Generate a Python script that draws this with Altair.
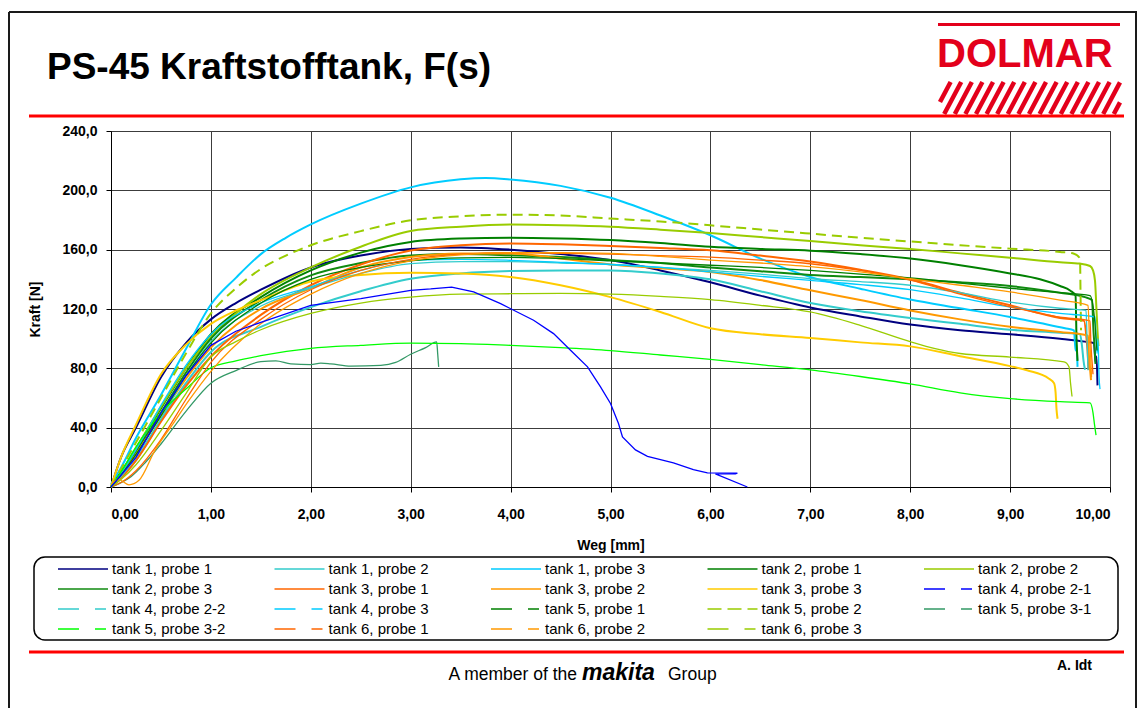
import altair as alt
import pandas as pd

# ---------------- series definitions ----------------
names = [
    "tank 1, probe 1", "tank 1, probe 2", "tank 1, probe 3", "tank 2, probe 1", "tank 2, probe 2",
    "tank 2, probe 3", "tank 3, probe 1", "tank 3, probe 2", "tank 3, probe 3", "tank 4, probe 2-1",
    "tank 4, probe 2-2", "tank 4, probe 3", "tank 5, probe 1", "tank 5, probe 2", "tank 5, probe 3-1",
    "tank 5, probe 3-2", "tank 6, probe 1", "tank 6, probe 2", "tank 6, probe 3",
]
colors = [
    "#000080", "#33CCCC", "#00CCFF", "#008000", "#99CC00",
    "#108A10", "#FF6600", "#FF9900", "#FFCC00", "#0000FF",
    "#33CCCC", "#00CCFF", "#008000", "#99CC00", "#339966",
    "#00FF00", "#FF6600", "#FF9900", "#99CC00",
]
SOLID = [1, 0]
LDASH = [21, 16, 11, 60]
DASH = [14, 6]
legend_dashes = [SOLID] * 9 + [LDASH] * 4 + [DASH] + [LDASH] * 5

# displacement s [mm] and force F [N]
s_t1p1 = [0, 0.1, 0.25, 0.5, 0.75, 1, 1.25, 1.5, 2, 2.5, 3, 3.5, 4, 4.5, 5, 5.5, 6, 6.5, 7, 7.5, 8, 8.5, 9, 9.5, 9.75, 9.84, 9.855, 9.865, 9.875]
f_t1p1 = [0, 20, 40, 74, 97, 113, 124, 133, 148, 156, 160.5, 161.5, 160, 157, 153, 146, 138, 129, 121, 115, 109.5, 105.7, 103, 100, 98, 97, 84, 88, 68.5]

s_t1p2 = [0, 0.25, 0.5, 0.75, 1, 1.5, 2, 2.5, 3, 3.5, 4, 4.5, 5, 5.5, 6, 6.5, 7, 7.5, 8, 8.5, 9, 9.5, 9.7, 9.72, 9.735, 9.75]
f_t1p2 = [0, 18, 45, 70, 91, 108, 121.3, 132, 140.4, 144, 145.6, 146, 146, 144, 140, 132, 124, 118.5, 114, 110, 106, 104, 103, 95, 85, 79]

s_t1p3 = [0, 0.1, 0.25, 0.5, 0.75, 1, 1.25, 1.5, 1.75, 2, 2.5, 3, 3.5, 3.75, 4, 4.5, 5, 5.5, 6, 6.5, 7, 7.5, 8, 8.5, 9, 9.3, 9.55, 9.64, 9.655, 9.665, 9.675]
f_t1p3 = [2, 13, 33, 62, 93, 123, 141, 157, 168, 177, 191, 202, 207.4, 208.3, 207.3, 203, 195, 183, 169.7, 154, 141.6, 133.7, 126.4, 120.5, 114.6, 110.5, 107, 105.6, 92, 96, 81]

s_t2p1 = [0, 0.1, 0.25, 0.5, 0.75, 1, 1.5, 2, 2.5, 3, 3.5, 4, 4.5, 5, 5.5, 6, 6.5, 7, 7.5, 8, 8.5, 9, 9.3, 9.5, 9.6, 9.655, 9.665, 9.675]
f_t2p1 = [0, 10, 26, 53, 80, 103, 128, 146, 158, 165.2, 167.5, 168.1, 167.6, 166.5, 164.5, 162, 160.5, 159.3, 157, 154, 149.5, 144, 140, 135.5, 132.5, 129, 100, 85]

s_t2p2 = [0, 0.1, 0.25, 0.5, 0.75, 1, 1.25, 1.5, 2, 2.5, 3, 3.5, 4, 4.5, 5, 5.5, 6, 6.5, 7, 7.5, 8, 8.5, 9, 9.5, 9.7, 9.8, 9.83, 9.85, 9.865, 9.875, 9.885]
f_t2p2 = [0, 9, 26, 54, 80, 101, 117, 130, 148, 162, 172.6, 175.5, 176.9, 176.5, 175.5, 173.5, 171.2, 168.5, 165.8, 163, 160.5, 157.5, 154.6, 151.5, 150.6, 149, 146, 139, 119, 105, 95]

s_t2p3 = [0, 0.1, 0.25, 0.5, 0.75, 1, 1.5, 2, 2.5, 3, 3.5, 4, 4.5, 5, 5.5, 6, 6.5, 7, 7.5, 8, 8.5, 9, 9.5, 9.75, 9.82, 9.835, 9.845, 9.855]
f_t2p3 = [0, 9, 24, 50, 77, 100, 126, 142.7, 151, 156, 157, 156.2, 155, 153, 151, 148, 145.5, 143, 141.5, 140, 138, 135.5, 131, 128, 126, 105, 95, 83]

s_t3p1 = [0, 0.1, 0.25, 0.5, 0.75, 1, 1.5, 2, 2.5, 3, 3.5, 4, 4.5, 5, 5.5, 6, 6.5, 7, 7.5, 8, 8.5, 9, 9.5, 9.74, 9.765, 9.775, 9.785]
f_t3p1 = [0, 6, 18, 44, 68, 88, 116, 136, 150, 159.5, 163, 164.2, 163.6, 162.5, 161.2, 159.6, 156, 152, 146.5, 140, 131, 122.5, 114, 112, 100, 92, 79]

s_t3p2 = [0, 0.1, 0.25, 0.5, 0.75, 1, 1.5, 2, 2.5, 3, 3.5, 4, 4.5, 5, 5.5, 6, 6.5, 7, 7.5, 8, 8.5, 9, 9.5, 9.78, 9.79, 9.8, 9.81]
f_t3p2 = [0, 8, 22, 48, 73, 94, 120, 134, 148, 155, 157.5, 157.5, 154, 150, 147.5, 145, 139.5, 132.6, 126, 119, 113, 108, 104.5, 102, 88, 80, 72]

s_t3p3 = [0, 0.1, 0.25, 0.5, 0.75, 1, 1.25, 1.5, 2, 2.5, 3, 3.5, 4, 4.5, 5, 5.5, 6, 6.5, 7, 7.5, 8, 8.5, 9, 9.17, 9.39, 9.44, 9.455, 9.465, 9.475]
f_t3p3 = [0, 20, 42, 76, 96, 110, 119, 126, 138.5, 143, 144.5, 144, 141.6, 136, 128, 118, 107, 103, 100.5, 97.5, 94.8, 88.2, 81.5, 78.7, 73, 70, 64, 52, 46]

s_t4p21 = [0, 0.1, 0.25, 0.5, 0.75, 1, 1.25, 1.5, 2, 2.5, 3, 3.2, 3.41, 3.63, 3.9, 4.23, 4.43, 4.6, 4.77, 4.9, 5.0, 5.08, 5.12, 5.25, 5.37, 5.5, 5.63, 5.83, 5.97, 6.27, 6.25, 6.05, 6.37]
f_t4p21 = [0, 8, 20, 50, 75, 95.5, 105, 111, 122.5, 127, 132.6, 133.5, 134.8, 131.5, 123.6, 112.4, 103.4, 92.2, 81, 67.5, 56.3, 42.8, 33.7, 25, 20.7, 18.5, 16.2, 11.7, 9.5, 9.3, 8.8, 8.8, 0]

s_t4p22 = [0, 0.1, 0.25, 0.5, 0.75, 1, 1.5, 2, 2.5, 3, 3.5, 4, 4.5, 5, 5.5, 6, 6.5, 7, 7.5, 8, 8.5, 9, 9.5, 9.7, 9.76, 9.77, 9.78]
f_t4p22 = [0, 7, 20, 46, 75, 98, 122, 134, 144, 150.6, 152, 152, 151, 150, 148, 146, 143.5, 140.4, 138.5, 136, 131, 124.7, 120.5, 119.5, 119, 100, 78.7]

s_t4p3 = [0, 0.1, 0.25, 0.5, 0.75, 1, 1.5, 2, 2.5, 3, 3.5, 4, 4.5, 5, 5.5, 6, 6.5, 7, 7.5, 8, 8.5, 9, 9.5, 9.85, 9.87, 9.88, 9.89, 9.9]
f_t4p3 = [0, 9, 25, 55, 82, 103, 124, 135, 146, 152.8, 153.5, 152.8, 151.5, 150, 148, 145, 142, 139.3, 136.5, 133, 127.5, 121.3, 117, 114.6, 90, 100, 75, 66]

s_t5p1 = [0, 0.1, 0.25, 0.5, 0.75, 1, 1.5, 2, 2.5, 3, 3.5, 4, 4.5, 5, 5.5, 6, 6.5, 7, 7.5, 8, 8.5, 9, 9.5, 9.8, 9.85, 9.86, 9.87]
f_t5p1 = [0, 8, 22, 48, 75, 97, 124, 140, 148, 152.5, 154.5, 154.8, 154, 152.5, 151, 149.5, 148, 146, 143.5, 141, 137.5, 134, 131, 129, 110, 100, 92]

s_t5p2 = [0, 0.1, 0.25, 0.5, 0.75, 1, 1.25, 1.5, 1.75, 2, 2.5, 3, 3.5, 4, 4.5, 5, 5.5, 6, 6.5, 7, 7.5, 8, 8.5, 9, 9.5, 9.64, 9.7, 9.705, 9.71]
f_t5p2 = [0, 12, 30, 60, 90, 117, 134, 147, 156, 163, 172.5, 179.8, 182.5, 183.6, 183, 181, 179, 176.4, 173.6, 170.8, 168, 165.5, 163, 160.7, 158.5, 157.3, 154, 130, 105.6]

s_t5p31 = [0, 0.1, 0.2, 0.35, 0.5, 0.75, 1, 1.25, 1.5, 1.65, 1.8, 2.0, 2.1, 2.2, 2.4, 2.7, 2.85, 3.0, 3.15, 3.26, 3.27, 3.28]
f_t5p31 = [0, 3, 7, 17, 29, 51, 70, 78.5, 84.5, 85, 83, 82.5, 83.5, 83, 81.5, 82, 84, 89.5, 94, 97.8, 90, 81]

s_t5p32 = [0, 0.1, 0.25, 0.5, 0.75, 1, 1.25, 1.5, 2, 2.5, 3, 3.5, 4, 4.5, 5, 5.5, 6, 6.5, 7, 7.5, 8, 8.5, 9, 9.5, 9.8, 9.83, 9.845, 9.86]
f_t5p32 = [0, 10, 27, 50, 66, 80.4, 85, 88.5, 93.5, 95.5, 97, 96.7, 95.5, 94, 92, 89, 86, 82.5, 79, 74.5, 69.5, 63.5, 59.6, 57.5, 56.7, 50, 42, 35]

s_t6p1 = [0, 0.1, 0.25, 0.5, 0.75, 1, 1.5, 2, 2.5, 3, 3.5, 4, 4.5, 5, 5.5, 6, 6.5, 7, 7.5, 8, 8.5, 9, 9.5, 9.8, 9.81, 9.82, 9.83]
f_t6p1 = [0, 3, 11, 32, 59, 84, 113, 133, 146, 153.5, 157, 158, 157.5, 157, 156, 155, 153, 150.5, 146, 139.5, 130, 121.5, 114.5, 112, 95, 85, 76]

s_t6p2 = [0, 0.08, 0.18, 0.28, 0.44, 0.61, 0.78, 1, 1.5, 2, 2.5, 3, 3.5, 4, 4.5, 5, 5.5, 6, 6.5, 7, 7.5, 8, 8.5, 9, 9.5, 9.78, 9.795, 9.805, 9.815]
f_t6p2 = [2, 5, 1.5, 4.5, 24.7, 41.6, 58.4, 78, 110, 130, 144, 152.5, 156.5, 158, 158, 157.5, 155.5, 153, 151, 148.5, 145, 140.4, 136, 131.5, 126, 122.5, 100, 90, 74]

s_t6p3 = [0, 0.1, 0.25, 0.5, 0.75, 1, 1.25, 1.5, 2, 2.5, 3, 3.5, 4, 4.5, 5, 5.5, 6, 6.5, 7, 7.5, 8, 8.25, 8.5, 9, 9.54, 9.59, 9.605, 9.62]
f_t6p3 = [0, 5, 15, 38, 63, 87.6, 98, 106, 117, 124, 128, 130, 130.3, 130.5, 130, 128.5, 126.3, 122.5, 118, 109, 98, 93.3, 90, 87.6, 84.3, 81, 70, 61]

series_data = [
    (s_t1p1, f_t1p1), (s_t1p2, f_t1p2), (s_t1p3, f_t1p3), (s_t2p1, f_t2p1), (s_t2p2, f_t2p2),
    (s_t2p3, f_t2p3), (s_t3p1, f_t3p1), (s_t3p2, f_t3p2), (s_t3p3, f_t3p3), (s_t4p21, f_t4p21),
    (s_t4p22, f_t4p22), (s_t4p3, f_t4p3), (s_t5p1, f_t5p1), (s_t5p2, f_t5p2), (s_t5p31, f_t5p31),
    (s_t5p32, f_t5p32), (s_t6p1, f_t6p1), (s_t6p2, f_t6p2), (s_t6p3, f_t6p3),
]

x_ticks = list(range(0, 11))
y_ticks = list(range(0, 241, 40))

rows = []
for name, (xs, fs) in zip(names, series_data):
    for i, (xv, fv) in enumerate(zip(xs, fs)):
        rows.append({"series": name, "s": xv, "F": fv, "i": i})
df = pd.DataFrame(rows)

# ---------------- layout constants (pixels) ----------------
OX, OY = 111, 131          # plot origin on the page
W, H = 999, 356            # plot area
FONT = "Liberation Sans"

x_enc = alt.X("s:Q", title="Weg [mm]",
              scale=alt.Scale(domain=[0, 10], nice=False, zero=False),
              axis=alt.Axis(values=x_ticks, labelExpr="replace(format(datum.value, '.2f'), '.', ',')",
                            titlePadding=17, labelPadding=15))
y_enc = alt.Y("F:Q", title="Kraft [N]",
              scale=alt.Scale(domain=[0, 240], nice=False),
              axis=alt.Axis(values=y_ticks, labelExpr="replace(format(datum.value, '.1f'), '.', ',')",
                            titlePadding=19, labelPadding=9))
col_nolegend = alt.Color("series:N", scale=alt.Scale(domain=names, range=colors), legend=None)

thick_names = names[0:9]
thin_names = [names[k] for k in (10, 11, 12, 14, 15, 16, 17, 18)]

thick = alt.Chart(df[df.series.isin(thick_names)]).mark_line(
    interpolate="monotone", strokeWidth=2).encode(x=x_enc, y=y_enc, color=col_nolegend)
thin = alt.Chart(df[df.series.isin(thin_names)]).mark_line(
    interpolate="monotone", strokeWidth=1.3).encode(x=x_enc, y=y_enc, color=col_nolegend)
dashed = alt.Chart(df[df.series == names[13]]).mark_line(
    interpolate="monotone", strokeWidth=2, strokeDash=[10, 6]).encode(x=x_enc, y=y_enc, color=col_nolegend)
blue = alt.Chart(df[df.series == names[9]]).mark_line(strokeWidth=1.3).encode(
    x=x_enc, y=y_enc, color=col_nolegend, order="i:Q")

leg = alt.Legend(orient="none", legendX=57 - OX, legendY=559 - OY, columns=5, direction="horizontal",
                 title=None, symbolType="stroke", symbolSize=2500, symbolStrokeWidth=1.6,
                 labelFont=FONT, labelFontSize=15, labelColor="black", labelOffset=3,
                 clipHeight=20, rowPadding=0, columnPadding=47.5, gridAlign="all",
                 padding=0, labelLimit=300)
legend_layer = alt.Chart(df[df.i == 0]).mark_line(strokeWidth=1.6).encode(
    x=x_enc, y=y_enc,
    color=alt.Color("series:N", scale=alt.Scale(domain=names, range=colors), legend=leg),
    strokeDash=alt.StrokeDash("series:N", scale=alt.Scale(domain=names, range=legend_dashes), legend=leg),
)

# ---------------- page decorations ----------------
one = alt.Data(values=[{"k": 1}])


def text(txt, x, y, size, weight="normal", color="black", align="left", style="normal", baseline="alphabetic"):
    return alt.Chart(one).mark_text(text=txt, font=FONT, fontSize=size, fontWeight=weight, color=color,
                                    align=align, baseline=baseline, fontStyle=style).encode(
        x=alt.value(x - OX), y=alt.value(y - OY))


def hline(x1, x2, y, color, width):
    return alt.Chart(one).mark_rule(color=color, strokeWidth=width).encode(
        x=alt.value(x1 - OX), x2=alt.value(x2 - OX), y=alt.value(y - OY))


def vline(x, y1, y2, color, width):
    return alt.Chart(one).mark_rule(color=color, strokeWidth=width).encode(
        x=alt.value(x - OX), y=alt.value(y1 - OY), y2=alt.value(y2 - OY))


LOGO_RED = "#E3001B"
deco = [
    hline(9, 1137, 12, "#1a1a1a", 2), vline(9, 12, 708, "#1a1a1a", 2), vline(1136, 12, 708, "#1a1a1a", 2),
    text("PS-45 Kraftstofftank, F(s)", 47, 79, 37, weight="bold"),
    hline(938, 1120, 24.5, LOGO_RED, 3),
    text("DOLMAR", 937, 66.5, 40, weight="bold", color=LOGO_RED),
    hline(29, 1124, 116, "#FF0000", 3),
    hline(29, 1124, 652, "#FF0000", 3),
    text("A member of the", 577, 680, 17.5, align="right"),
    text("makita", 582, 680, 23, weight="bold", style="italic"),
    text("Group", 668, 680, 17.5),
    text("A. Idt", 1057, 670, 14, weight="bold"),
    alt.Chart(one).mark_rect(cornerRadius=11, stroke="black", strokeWidth=1.5, fill="white", fillOpacity=0).encode(
        x=alt.value(34 - OX), x2=alt.value(1118 - OX), y=alt.value(557 - OY), y2=alt.value(640 - OY)),
]

# hatched band of the logo: clipped diagonal stripes, converted into data units
bx0, bx1, by0, by1 = 940.0, 1120.0, 82.0, 114.0
run, pitch = 17.0, 10.6
stripes = []
a = bx0 - run
while a < bx1:
    t0 = max(0.0, (bx0 - a) / run)
    t1 = min(1.0, (bx1 - a) / run)
    if t1 > t0:
        px0, py0 = a + run * t0, by1 - (by1 - by0) * t0
        px1, py1 = a + run * t1, by1 - (by1 - by0) * t1
        stripes.append({"s": (px0 - OX) / W * 10, "F": (OY + H - py0) / H * 240,
                        "s2": (px1 - OX) / W * 10, "F2": (OY + H - py1) / H * 240})
    a += pitch
hatch = alt.Chart(pd.DataFrame(stripes)).mark_rule(color=LOGO_RED, strokeWidth=4.5).encode(
    x=x_enc, y=y_enc, x2="s2:Q", y2="F2:Q")

chart = alt.layer(thick, dashed, thin, blue, legend_layer, hatch, *deco).resolve_legend(
    color="independent", strokeDash="independent"
).properties(
    width=W, height=H,
    padding={"left": OX, "top": OY, "right": 1140 - OX - W, "bottom": 708 - OY - H},
    autosize=alt.AutoSizeParams(type="none"),
    background="white",
).configure_axis(
    labelFont=FONT, labelFontSize=14, labelFontWeight="bold", labelColor="black",
    titleFont=FONT, titleFontSize=14, titleFontWeight="bold", titleColor="black",
    tickColor="black", tickSize=5, domainColor="black", domainWidth=1,
    grid=True, gridColor="#3c3c3c", gridWidth=1, gridOpacity=1,
).configure_view(stroke="#3c3c3c", strokeWidth=1)

chart.save("out.html", embed_options={"renderer": "svg", "actions": False})
